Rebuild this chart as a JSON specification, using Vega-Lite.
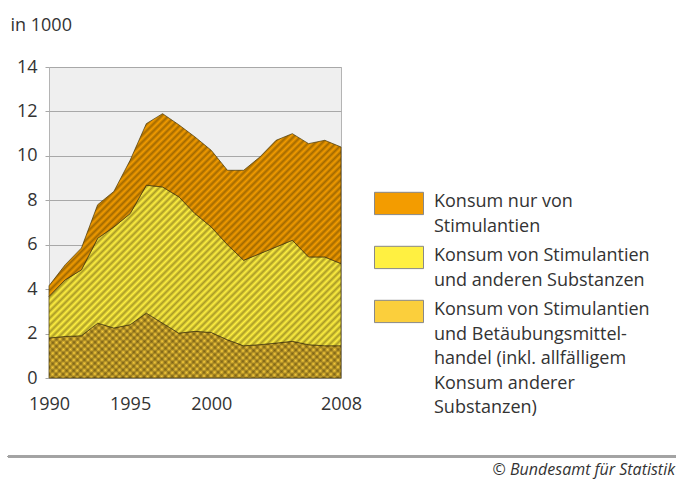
{
  "$schema": "https://vega.github.io/schema/vega-lite/v6.json",
  "width": 292,
  "height": 311,
  "autosize": {"type": "none"},
  "padding": {"left": 49, "top": 67, "right": 335, "bottom": 101},
  "background": "white",
  "config": {
    "font": "Open Sans",
    "view": {"fill": "#efefef", "stroke": "#b4b4b4", "strokeWidth": 1},
    "style": {"guide-label": {"lineHeight": 24.5}}
  },
  "title": {
    "text": "© Bundesamt für Statistik",
    "orient": "bottom",
    "anchor": "end",
    "fontSize": 16,
    "fontStyle": "italic",
    "fontWeight": "normal",
    "color": "#333333",
    "dx": -2,
    "offset": 5
  },
  "data": {
    "values": [
      {"Jahr": 1990, "Handel": 1.8, "Mischkonsum": 1.87, "Stimulantien": 0.48},
      {"Jahr": 1991, "Handel": 1.87, "Mischkonsum": 2.55, "Stimulantien": 0.68},
      {"Jahr": 1992, "Handel": 1.9, "Mischkonsum": 2.97, "Stimulantien": 0.98},
      {"Jahr": 1993, "Handel": 2.47, "Mischkonsum": 3.82, "Stimulantien": 1.51},
      {"Jahr": 1994, "Handel": 2.25, "Mischkonsum": 4.55, "Stimulantien": 1.6},
      {"Jahr": 1995, "Handel": 2.4, "Mischkonsum": 5.0, "Stimulantien": 2.4},
      {"Jahr": 1996, "Handel": 2.92, "Mischkonsum": 5.76, "Stimulantien": 2.77},
      {"Jahr": 1997, "Handel": 2.47, "Mischkonsum": 6.13, "Stimulantien": 3.3},
      {"Jahr": 1998, "Handel": 2.02, "Mischkonsum": 6.14, "Stimulantien": 3.24},
      {"Jahr": 1999, "Handel": 2.1, "Mischkonsum": 5.3, "Stimulantien": 3.45},
      {"Jahr": 2000, "Handel": 2.05, "Mischkonsum": 4.75, "Stimulantien": 3.45},
      {"Jahr": 2001, "Handel": 1.72, "Mischkonsum": 4.28, "Stimulantien": 3.35},
      {"Jahr": 2002, "Handel": 1.45, "Mischkonsum": 3.85, "Stimulantien": 4.05},
      {"Jahr": 2003, "Handel": 1.5, "Mischkonsum": 4.1, "Stimulantien": 4.35},
      {"Jahr": 2004, "Handel": 1.57, "Mischkonsum": 4.33, "Stimulantien": 4.8},
      {"Jahr": 2005, "Handel": 1.65, "Mischkonsum": 4.55, "Stimulantien": 4.8},
      {"Jahr": 2006, "Handel": 1.5, "Mischkonsum": 3.95, "Stimulantien": 5.1},
      {"Jahr": 2007, "Handel": 1.45, "Mischkonsum": 4.0, "Stimulantien": 5.25},
      {"Jahr": 2008, "Handel": 1.45, "Mischkonsum": 3.7, "Stimulantien": 5.25}
    ]
  },
  "transform": [
    {"fold": ["Handel", "Mischkonsum", "Stimulantien"], "as": ["Gruppe", "Anzahl"]}
  ],
  "layer": [
    {
      "mark": {"type": "area", "interpolate": "linear", "stroke": "#4a3c10", "strokeWidth": 0.8, "strokeOpacity": 0.9, "opacity": 1},
      "encoding": {
        "x": {
          "field": "Jahr", "type": "quantitative",
          "scale": {"domain": [1990, 2008], "nice": false, "zero": false},
          "axis": {
            "title": null, "values": [1990, 1995, 2000, 2008], "format": "d",
            "labelFontSize": 18, "labelColor": "#333333", "ticks": false, "tickSize": 0,
            "domain": false, "grid": false, "labelPadding": 17, "labelFlush": false
          }
        },
        "y": {
          "field": "Anzahl", "type": "quantitative", "stack": "zero",
          "scale": {"domain": [0, 14], "nice": false},
          "axis": {
            "title": "in 1000", "titleAngle": 0, "titleX": -39, "titleY": -37,
            "titleAlign": "left", "titleBaseline": "alphabetic", "titleFontSize": 18,
            "titleFontWeight": "normal", "titleColor": "#333333",
            "values": [0, 2, 4, 6, 8, 10, 12, 14],
            "labelFontSize": 18, "labelColor": "#333333", "tickColor": "#a8a8a8", "tickSize": 4,
            "labelPadding": 8, "domain": false, "grid": true, "gridColor": "#a8a8a8"
          }
        },
        "color": {
          "field": "Gruppe", "type": "nominal",
          "scale": {"domain": ["Stimulantien", "Mischkonsum", "Handel"], "range": ["#f39c00", "#fff041", "#fbcf3c"]},
          "legend": {
            "title": null, "orient": "none", "legendX": 325, "legendY": 115,
            "symbolType": "M-1,-0.6H1V0.31H-1Z", "symbolSize": 2401,
            "symbolStrokeColor": "#888888", "symbolStrokeWidth": 1, "symbolOpacity": 1,
            "labelFontSize": 18, "labelColor": "#333333", "labelBaseline": "alphabetic",
            "labelOffset": 10, "labelLimit": 400, "rowPadding": 0,
            "labelExpr": "datum.value == 'Stimulantien' ? ['Konsum nur von', 'Stimulantien'] : datum.value == 'Mischkonsum' ? ['Konsum von Stimulantien', 'und anderen Substanzen'] : ['Konsum von Stimulantien', 'und Betäubungsmittel-', 'handel (inkl. allfälligem', 'Konsum anderer', 'Substanzen)']"
          }
        },
        "order": {"field": "Gruppe", "type": "nominal", "sort": "ascending"}
      }
    },
    {
      "mark": {
        "type": "area", "interpolate": "linear", "strokeWidth": 0,
        "fill": {
          "gradient": "linear", "x1": 0, "y1": 0, "x2": 1.0471, "y2": 0.9479,
          "stops": [
            {"offset": 0, "color": "rgba(50,35,0,0)"}, {"offset": 0.00625, "color": "rgba(50,35,0,0.42)"},
            {"offset": 0.0125, "color": "rgba(50,35,0,0)"}, {"offset": 0.01875, "color": "rgba(50,35,0,0.42)"},
            {"offset": 0.025, "color": "rgba(50,35,0,0)"}, {"offset": 0.03125, "color": "rgba(50,35,0,0.42)"},
            {"offset": 0.0375, "color": "rgba(50,35,0,0)"}, {"offset": 0.04375, "color": "rgba(50,35,0,0.42)"},
            {"offset": 0.05, "color": "rgba(50,35,0,0)"}, {"offset": 0.05625, "color": "rgba(50,35,0,0.42)"},
            {"offset": 0.0625, "color": "rgba(50,35,0,0)"}, {"offset": 0.06875, "color": "rgba(50,35,0,0.42)"},
            {"offset": 0.075, "color": "rgba(50,35,0,0)"}, {"offset": 0.08125, "color": "rgba(50,35,0,0.42)"},
            {"offset": 0.0875, "color": "rgba(50,35,0,0)"}, {"offset": 0.09375, "color": "rgba(50,35,0,0.42)"},
            {"offset": 0.1, "color": "rgba(50,35,0,0)"}, {"offset": 0.10625, "color": "rgba(50,35,0,0.42)"},
            {"offset": 0.1125, "color": "rgba(50,35,0,0)"}, {"offset": 0.11875, "color": "rgba(50,35,0,0.42)"},
            {"offset": 0.125, "color": "rgba(50,35,0,0)"}, {"offset": 0.13125, "color": "rgba(50,35,0,0.42)"},
            {"offset": 0.1375, "color": "rgba(50,35,0,0)"}, {"offset": 0.14375, "color": "rgba(50,35,0,0.42)"},
            {"offset": 0.15, "color": "rgba(50,35,0,0)"}, {"offset": 0.15625, "color": "rgba(50,35,0,0.42)"},
            {"offset": 0.1625, "color": "rgba(50,35,0,0)"}, {"offset": 0.16875, "color": "rgba(50,35,0,0.42)"},
            {"offset": 0.175, "color": "rgba(50,35,0,0)"}, {"offset": 0.18125, "color": "rgba(50,35,0,0.42)"},
            {"offset": 0.1875, "color": "rgba(50,35,0,0)"}, {"offset": 0.19375, "color": "rgba(50,35,0,0.42)"},
            {"offset": 0.2, "color": "rgba(50,35,0,0)"}, {"offset": 0.20625, "color": "rgba(50,35,0,0.42)"},
            {"offset": 0.2125, "color": "rgba(50,35,0,0)"}, {"offset": 0.21875, "color": "rgba(50,35,0,0.42)"},
            {"offset": 0.225, "color": "rgba(50,35,0,0)"}, {"offset": 0.23125, "color": "rgba(50,35,0,0.42)"},
            {"offset": 0.2375, "color": "rgba(50,35,0,0)"}, {"offset": 0.24375, "color": "rgba(50,35,0,0.42)"},
            {"offset": 0.25, "color": "rgba(50,35,0,0)"}, {"offset": 0.25625, "color": "rgba(50,35,0,0.42)"},
            {"offset": 0.2625, "color": "rgba(50,35,0,0)"}, {"offset": 0.26875, "color": "rgba(50,35,0,0.42)"},
            {"offset": 0.275, "color": "rgba(50,35,0,0)"}, {"offset": 0.28125, "color": "rgba(50,35,0,0.42)"},
            {"offset": 0.2875, "color": "rgba(50,35,0,0)"}, {"offset": 0.29375, "color": "rgba(50,35,0,0.42)"},
            {"offset": 0.3, "color": "rgba(50,35,0,0)"}, {"offset": 0.30625, "color": "rgba(50,35,0,0.42)"},
            {"offset": 0.3125, "color": "rgba(50,35,0,0)"}, {"offset": 0.31875, "color": "rgba(50,35,0,0.42)"},
            {"offset": 0.325, "color": "rgba(50,35,0,0)"}, {"offset": 0.33125, "color": "rgba(50,35,0,0.42)"},
            {"offset": 0.3375, "color": "rgba(50,35,0,0)"}, {"offset": 0.34375, "color": "rgba(50,35,0,0.42)"},
            {"offset": 0.35, "color": "rgba(50,35,0,0)"}, {"offset": 0.35625, "color": "rgba(50,35,0,0.42)"},
            {"offset": 0.3625, "color": "rgba(50,35,0,0)"}, {"offset": 0.36875, "color": "rgba(50,35,0,0.42)"},
            {"offset": 0.375, "color": "rgba(50,35,0,0)"}, {"offset": 0.38125, "color": "rgba(50,35,0,0.42)"},
            {"offset": 0.3875, "color": "rgba(50,35,0,0)"}, {"offset": 0.39375, "color": "rgba(50,35,0,0.42)"},
            {"offset": 0.4, "color": "rgba(50,35,0,0)"}, {"offset": 0.40625, "color": "rgba(50,35,0,0.42)"},
            {"offset": 0.4125, "color": "rgba(50,35,0,0)"}, {"offset": 0.41875, "color": "rgba(50,35,0,0.42)"},
            {"offset": 0.425, "color": "rgba(50,35,0,0)"}, {"offset": 0.43125, "color": "rgba(50,35,0,0.42)"},
            {"offset": 0.4375, "color": "rgba(50,35,0,0)"}, {"offset": 0.44375, "color": "rgba(50,35,0,0.42)"},
            {"offset": 0.45, "color": "rgba(50,35,0,0)"}, {"offset": 0.45625, "color": "rgba(50,35,0,0.42)"},
            {"offset": 0.4625, "color": "rgba(50,35,0,0)"}, {"offset": 0.46875, "color": "rgba(50,35,0,0.42)"},
            {"offset": 0.475, "color": "rgba(50,35,0,0)"}, {"offset": 0.48125, "color": "rgba(50,35,0,0.42)"},
            {"offset": 0.4875, "color": "rgba(50,35,0,0)"}, {"offset": 0.49375, "color": "rgba(50,35,0,0.42)"},
            {"offset": 0.5, "color": "rgba(50,35,0,0)"}, {"offset": 0.50625, "color": "rgba(50,35,0,0.42)"},
            {"offset": 0.5125, "color": "rgba(50,35,0,0)"}, {"offset": 0.51875, "color": "rgba(50,35,0,0.42)"},
            {"offset": 0.525, "color": "rgba(50,35,0,0)"}, {"offset": 0.53125, "color": "rgba(50,35,0,0.42)"},
            {"offset": 0.5375, "color": "rgba(50,35,0,0)"}, {"offset": 0.54375, "color": "rgba(50,35,0,0.42)"},
            {"offset": 0.55, "color": "rgba(50,35,0,0)"}, {"offset": 0.55625, "color": "rgba(50,35,0,0.42)"},
            {"offset": 0.5625, "color": "rgba(50,35,0,0)"}, {"offset": 0.56875, "color": "rgba(50,35,0,0.42)"},
            {"offset": 0.575, "color": "rgba(50,35,0,0)"}, {"offset": 0.58125, "color": "rgba(50,35,0,0.42)"},
            {"offset": 0.5875, "color": "rgba(50,35,0,0)"}, {"offset": 0.59375, "color": "rgba(50,35,0,0.42)"},
            {"offset": 0.6, "color": "rgba(50,35,0,0)"}, {"offset": 0.60625, "color": "rgba(50,35,0,0.42)"},
            {"offset": 0.6125, "color": "rgba(50,35,0,0)"}, {"offset": 0.61875, "color": "rgba(50,35,0,0.42)"},
            {"offset": 0.625, "color": "rgba(50,35,0,0)"}, {"offset": 0.63125, "color": "rgba(50,35,0,0.42)"},
            {"offset": 0.6375, "color": "rgba(50,35,0,0)"}, {"offset": 0.64375, "color": "rgba(50,35,0,0.42)"},
            {"offset": 0.65, "color": "rgba(50,35,0,0)"}, {"offset": 0.65625, "color": "rgba(50,35,0,0.42)"},
            {"offset": 0.6625, "color": "rgba(50,35,0,0)"}, {"offset": 0.66875, "color": "rgba(50,35,0,0.42)"},
            {"offset": 0.675, "color": "rgba(50,35,0,0)"}, {"offset": 0.68125, "color": "rgba(50,35,0,0.42)"},
            {"offset": 0.6875, "color": "rgba(50,35,0,0)"}, {"offset": 0.69375, "color": "rgba(50,35,0,0.42)"},
            {"offset": 0.7, "color": "rgba(50,35,0,0)"}, {"offset": 0.70625, "color": "rgba(50,35,0,0.42)"},
            {"offset": 0.7125, "color": "rgba(50,35,0,0)"}, {"offset": 0.71875, "color": "rgba(50,35,0,0.42)"},
            {"offset": 0.725, "color": "rgba(50,35,0,0)"}, {"offset": 0.73125, "color": "rgba(50,35,0,0.42)"},
            {"offset": 0.7375, "color": "rgba(50,35,0,0)"}, {"offset": 0.74375, "color": "rgba(50,35,0,0.42)"},
            {"offset": 0.75, "color": "rgba(50,35,0,0)"}, {"offset": 0.75625, "color": "rgba(50,35,0,0.42)"},
            {"offset": 0.7625, "color": "rgba(50,35,0,0)"}, {"offset": 0.76875, "color": "rgba(50,35,0,0.42)"},
            {"offset": 0.775, "color": "rgba(50,35,0,0)"}, {"offset": 0.78125, "color": "rgba(50,35,0,0.42)"},
            {"offset": 0.7875, "color": "rgba(50,35,0,0)"}, {"offset": 0.79375, "color": "rgba(50,35,0,0.42)"},
            {"offset": 0.8, "color": "rgba(50,35,0,0)"}, {"offset": 0.80625, "color": "rgba(50,35,0,0.42)"},
            {"offset": 0.8125, "color": "rgba(50,35,0,0)"}, {"offset": 0.81875, "color": "rgba(50,35,0,0.42)"},
            {"offset": 0.825, "color": "rgba(50,35,0,0)"}, {"offset": 0.83125, "color": "rgba(50,35,0,0.42)"},
            {"offset": 0.8375, "color": "rgba(50,35,0,0)"}, {"offset": 0.84375, "color": "rgba(50,35,0,0.42)"},
            {"offset": 0.85, "color": "rgba(50,35,0,0)"}, {"offset": 0.85625, "color": "rgba(50,35,0,0.42)"},
            {"offset": 0.8625, "color": "rgba(50,35,0,0)"}, {"offset": 0.86875, "color": "rgba(50,35,0,0.42)"},
            {"offset": 0.875, "color": "rgba(50,35,0,0)"}, {"offset": 0.88125, "color": "rgba(50,35,0,0.42)"},
            {"offset": 0.8875, "color": "rgba(50,35,0,0)"}, {"offset": 0.89375, "color": "rgba(50,35,0,0.42)"},
            {"offset": 0.9, "color": "rgba(50,35,0,0)"}, {"offset": 0.90625, "color": "rgba(50,35,0,0.42)"},
            {"offset": 0.9125, "color": "rgba(50,35,0,0)"}, {"offset": 0.91875, "color": "rgba(50,35,0,0.42)"},
            {"offset": 0.925, "color": "rgba(50,35,0,0)"}, {"offset": 0.93125, "color": "rgba(50,35,0,0.42)"},
            {"offset": 0.9375, "color": "rgba(50,35,0,0)"}, {"offset": 0.94375, "color": "rgba(50,35,0,0.42)"},
            {"offset": 0.95, "color": "rgba(50,35,0,0)"}, {"offset": 0.95625, "color": "rgba(50,35,0,0.42)"},
            {"offset": 0.9625, "color": "rgba(50,35,0,0)"}, {"offset": 0.96875, "color": "rgba(50,35,0,0.42)"},
            {"offset": 0.975, "color": "rgba(50,35,0,0)"}, {"offset": 0.98125, "color": "rgba(50,35,0,0.42)"},
            {"offset": 0.9875, "color": "rgba(50,35,0,0)"}, {"offset": 0.99375, "color": "rgba(50,35,0,0.42)"},
            {"offset": 1, "color": "rgba(50,35,0,0)"}
          ]
        }
      },
      "encoding": {
        "x": {"field": "Jahr", "type": "quantitative"},
        "y": {"aggregate": "sum", "field": "Anzahl", "type": "quantitative", "stack": null}
      }
    },
    {
      "transform": [{"filter": "datum.Gruppe == 'Handel'"}],
      "mark": {
        "type": "area", "interpolate": "linear", "strokeWidth": 0,
        "fill": {
          "gradient": "linear", "x1": 0, "y1": 1, "x2": 1.1647, "y2": 0.7412,
          "stops": [
            {"offset": 0, "color": "rgba(50,35,0,0)"}, {"offset": 0.01, "color": "rgba(50,35,0,0.4)"},
            {"offset": 0.02, "color": "rgba(50,35,0,0)"}, {"offset": 0.03, "color": "rgba(50,35,0,0.4)"},
            {"offset": 0.04, "color": "rgba(50,35,0,0)"}, {"offset": 0.05, "color": "rgba(50,35,0,0.4)"},
            {"offset": 0.06, "color": "rgba(50,35,0,0)"}, {"offset": 0.07, "color": "rgba(50,35,0,0.4)"},
            {"offset": 0.08, "color": "rgba(50,35,0,0)"}, {"offset": 0.09, "color": "rgba(50,35,0,0.4)"},
            {"offset": 0.1, "color": "rgba(50,35,0,0)"}, {"offset": 0.11, "color": "rgba(50,35,0,0.4)"},
            {"offset": 0.12, "color": "rgba(50,35,0,0)"}, {"offset": 0.13, "color": "rgba(50,35,0,0.4)"},
            {"offset": 0.14, "color": "rgba(50,35,0,0)"}, {"offset": 0.15, "color": "rgba(50,35,0,0.4)"},
            {"offset": 0.16, "color": "rgba(50,35,0,0)"}, {"offset": 0.17, "color": "rgba(50,35,0,0.4)"},
            {"offset": 0.18, "color": "rgba(50,35,0,0)"}, {"offset": 0.19, "color": "rgba(50,35,0,0.4)"},
            {"offset": 0.2, "color": "rgba(50,35,0,0)"}, {"offset": 0.21, "color": "rgba(50,35,0,0.4)"},
            {"offset": 0.22, "color": "rgba(50,35,0,0)"}, {"offset": 0.23, "color": "rgba(50,35,0,0.4)"},
            {"offset": 0.24, "color": "rgba(50,35,0,0)"}, {"offset": 0.25, "color": "rgba(50,35,0,0.4)"},
            {"offset": 0.26, "color": "rgba(50,35,0,0)"}, {"offset": 0.27, "color": "rgba(50,35,0,0.4)"},
            {"offset": 0.28, "color": "rgba(50,35,0,0)"}, {"offset": 0.29, "color": "rgba(50,35,0,0.4)"},
            {"offset": 0.3, "color": "rgba(50,35,0,0)"}, {"offset": 0.31, "color": "rgba(50,35,0,0.4)"},
            {"offset": 0.32, "color": "rgba(50,35,0,0)"}, {"offset": 0.33, "color": "rgba(50,35,0,0.4)"},
            {"offset": 0.34, "color": "rgba(50,35,0,0)"}, {"offset": 0.35, "color": "rgba(50,35,0,0.4)"},
            {"offset": 0.36, "color": "rgba(50,35,0,0)"}, {"offset": 0.37, "color": "rgba(50,35,0,0.4)"},
            {"offset": 0.38, "color": "rgba(50,35,0,0)"}, {"offset": 0.39, "color": "rgba(50,35,0,0.4)"},
            {"offset": 0.4, "color": "rgba(50,35,0,0)"}, {"offset": 0.41, "color": "rgba(50,35,0,0.4)"},
            {"offset": 0.42, "color": "rgba(50,35,0,0)"}, {"offset": 0.43, "color": "rgba(50,35,0,0.4)"},
            {"offset": 0.44, "color": "rgba(50,35,0,0)"}, {"offset": 0.45, "color": "rgba(50,35,0,0.4)"},
            {"offset": 0.46, "color": "rgba(50,35,0,0)"}, {"offset": 0.47, "color": "rgba(50,35,0,0.4)"},
            {"offset": 0.48, "color": "rgba(50,35,0,0)"}, {"offset": 0.49, "color": "rgba(50,35,0,0.4)"},
            {"offset": 0.5, "color": "rgba(50,35,0,0)"}, {"offset": 0.51, "color": "rgba(50,35,0,0.4)"},
            {"offset": 0.52, "color": "rgba(50,35,0,0)"}, {"offset": 0.53, "color": "rgba(50,35,0,0.4)"},
            {"offset": 0.54, "color": "rgba(50,35,0,0)"}, {"offset": 0.55, "color": "rgba(50,35,0,0.4)"},
            {"offset": 0.56, "color": "rgba(50,35,0,0)"}, {"offset": 0.57, "color": "rgba(50,35,0,0.4)"},
            {"offset": 0.58, "color": "rgba(50,35,0,0)"}, {"offset": 0.59, "color": "rgba(50,35,0,0.4)"},
            {"offset": 0.6, "color": "rgba(50,35,0,0)"}, {"offset": 0.61, "color": "rgba(50,35,0,0.4)"},
            {"offset": 0.62, "color": "rgba(50,35,0,0)"}, {"offset": 0.63, "color": "rgba(50,35,0,0.4)"},
            {"offset": 0.64, "color": "rgba(50,35,0,0)"}, {"offset": 0.65, "color": "rgba(50,35,0,0.4)"},
            {"offset": 0.66, "color": "rgba(50,35,0,0)"}, {"offset": 0.67, "color": "rgba(50,35,0,0.4)"},
            {"offset": 0.68, "color": "rgba(50,35,0,0)"}, {"offset": 0.69, "color": "rgba(50,35,0,0.4)"},
            {"offset": 0.7, "color": "rgba(50,35,0,0)"}, {"offset": 0.71, "color": "rgba(50,35,0,0.4)"},
            {"offset": 0.72, "color": "rgba(50,35,0,0)"}, {"offset": 0.73, "color": "rgba(50,35,0,0.4)"},
            {"offset": 0.74, "color": "rgba(50,35,0,0)"}, {"offset": 0.75, "color": "rgba(50,35,0,0.4)"},
            {"offset": 0.76, "color": "rgba(50,35,0,0)"}, {"offset": 0.77, "color": "rgba(50,35,0,0.4)"},
            {"offset": 0.78, "color": "rgba(50,35,0,0)"}, {"offset": 0.79, "color": "rgba(50,35,0,0.4)"},
            {"offset": 0.8, "color": "rgba(50,35,0,0)"}, {"offset": 0.81, "color": "rgba(50,35,0,0.4)"},
            {"offset": 0.82, "color": "rgba(50,35,0,0)"}, {"offset": 0.83, "color": "rgba(50,35,0,0.4)"},
            {"offset": 0.84, "color": "rgba(50,35,0,0)"}, {"offset": 0.85, "color": "rgba(50,35,0,0.4)"},
            {"offset": 0.86, "color": "rgba(50,35,0,0)"}, {"offset": 0.87, "color": "rgba(50,35,0,0.4)"},
            {"offset": 0.88, "color": "rgba(50,35,0,0)"}, {"offset": 0.89, "color": "rgba(50,35,0,0.4)"},
            {"offset": 0.9, "color": "rgba(50,35,0,0)"}, {"offset": 0.91, "color": "rgba(50,35,0,0.4)"},
            {"offset": 0.92, "color": "rgba(50,35,0,0)"}, {"offset": 0.93, "color": "rgba(50,35,0,0.4)"},
            {"offset": 0.94, "color": "rgba(50,35,0,0)"}, {"offset": 0.95, "color": "rgba(50,35,0,0.4)"},
            {"offset": 0.96, "color": "rgba(50,35,0,0)"}, {"offset": 0.97, "color": "rgba(50,35,0,0.4)"},
            {"offset": 0.98, "color": "rgba(50,35,0,0)"}, {"offset": 0.99, "color": "rgba(50,35,0,0.4)"},
            {"offset": 1, "color": "rgba(50,35,0,0)"}
          ]
        }
      },
      "encoding": {
        "x": {"field": "Jahr", "type": "quantitative"},
        "y": {"field": "Anzahl", "type": "quantitative", "stack": null}
      }
    },
    {
      "mark": {"type": "rule", "color": "#a3a3a3", "strokeWidth": 2},
      "encoding": {
        "x": {"datum": 1987.47},
        "x2": {"datum": 2028.65},
        "y": {"datum": -3.53}
      }
    }
  ]
}
